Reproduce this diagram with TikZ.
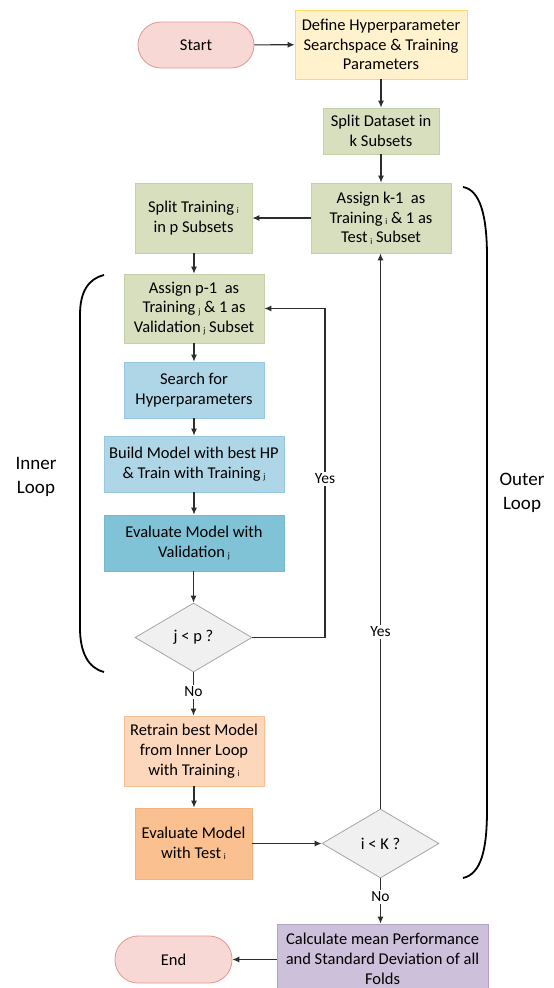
\documentclass[tikz,border=0pt]{standalone}
\usepackage{fontspec}
\setmainfont{Carlito}
\usetikzlibrary{arrows.meta,shapes.geometric}

\definecolor{pinkfill}{RGB}{248,216,213}
\definecolor{pinkdraw}{RGB}{228,150,145}
\definecolor{yelfill}{RGB}{255,242,204}
\definecolor{yeldraw}{RGB}{255,217,102}
\definecolor{grnfill}{RGB}{216,223,191}
\definecolor{grndraw}{RGB}{196,208,166}
\definecolor{bluefill}{RGB}{174,214,230}
\definecolor{bluedraw}{RGB}{150,200,225}
\definecolor{tealfill}{RGB}{128,194,214}
\definecolor{tealdraw}{RGB}{118,184,208}
\definecolor{peachfill}{RGB}{252,215,187}
\definecolor{peachdraw}{RGB}{249,190,145}
\definecolor{orangefill}{RGB}{250,192,143}
\definecolor{orangedraw}{RGB}{244,178,128}
\definecolor{grayfill}{RGB}{240,240,240}
\definecolor{graydraw}{RGB}{166,166,166}
\definecolor{lavfill}{RGB}{204,192,218}
\definecolor{lavdraw}{RGB}{178,162,199}
\definecolor{linecol}{RGB}{45,45,45}

% small lowered index, as in "Training i"
\newcommand\lowidx[1]{\,{\fontsize{8.5}{8.5}\selectfont\raisebox{-0.35ex}{#1}}}

\tikzset{
  box/.style={rectangle, draw, line width=0.8pt, align=center, inner sep=0pt,
    font=\fontsize{16.5}{19.7}\selectfont},
  pill/.style={box, rounded corners=23pt, fill=pinkfill, draw=pinkdraw},
  decision/.style={diamond, draw=graydraw, fill=grayfill, line width=0.8pt,
    inner sep=0pt, align=center, font=\fontsize{16.5}{19.7}\selectfont},
  flow/.style={draw=linecol, line width=1.1pt, -{Latex[length=7pt,width=6pt]}},
  lbl/.style={fill=white, inner sep=1.5pt, font=\fontsize{15.5}{17}\selectfont},
  bracket/.style={draw=black, line width=1.8pt},
  looptext/.style={align=center, font=\fontsize{19}{24}\selectfont}
}

\begin{document}
\begin{tikzpicture}[x=1pt, y=-1pt]
\clip (0,0) rectangle (554,988);
\fill[white] (0,0) rectangle (554,988);

% steps
\node[pill, minimum width=116pt, minimum height=46pt] (start) at (196,45) {Start};
\node[box, fill=yelfill, draw=yeldraw, minimum width=172pt, minimum height=69pt] (define) at (381,44.5)
  {Define Hyperparameter\\Searchspace \& Training\\Parameters};
\node[box, fill=grnfill, draw=grndraw, minimum width=116pt, minimum height=46pt] (splitds) at (381,131)
  {Split Dataset in\\k Subsets};
\node[box, fill=grnfill, draw=grndraw, minimum width=140pt, minimum height=70pt] (assignk) at (381,218)
  {Assign k-1~ as\\Training\lowidx{i} \& 1 as\\Test\lowidx{i} Subset};
\node[box, fill=grnfill, draw=grndraw, minimum width=117pt, minimum height=70pt] (splittr) at (193.5,218)
  {Split Training\lowidx{i}\\in p Subsets};
\node[box, fill=grnfill, draw=grndraw, minimum width=140pt, minimum height=69pt] (assignp) at (194,308.5)
  {Assign p-1~ as\\Training\lowidx{j} \& 1 as\\Validation\lowidx{j} Subset};
\node[box, fill=bluefill, draw=bluedraw, minimum width=140pt, minimum height=56pt] (search) at (194,390)
  {Search for\\Hyperparameters};
\node[box, fill=bluefill, draw=bluedraw, minimum width=180pt, minimum height=56pt] (build) at (194,464)
  {Build Model with best HP\\\& Train with Training\lowidx{j}};
\node[box, fill=tealfill, draw=tealdraw, minimum width=180pt, minimum height=56pt] (evalval) at (194,543)
  {Evaluate Model with\\Validation\lowidx{j}};
\node[decision, minimum width=117pt, minimum height=69pt] (djp) at (193.5,637.5) {j < p ?};
\node[box, fill=peachfill, draw=peachdraw, minimum width=140pt, minimum height=70pt] (retrain) at (194,751)
  {Retrain best Model\\from Inner Loop\\with Training\lowidx{i}};
\node[box, fill=orangefill, draw=orangedraw, minimum width=117pt, minimum height=71pt] (evaltest) at (193.5,843.5)
  {Evaluate Model\\with Test\lowidx{i}};
\node[decision, minimum width=117pt, minimum height=69pt] (dik) at (380.5,843.5) {i < K ?};
\node[box, fill=lavfill, draw=lavdraw, minimum width=211pt, minimum height=70pt] (calc) at (382.5,959)
  {Calculate mean Performance\\and Standard Deviation of all\\Folds};
\node[pill, minimum width=117pt, minimum height=47pt] (end) at (173.5,959.5) {End};

% connectors
\draw[flow] (start) -- (define);
\draw[flow] (define) -- (splitds);
\draw[flow] (splitds) -- (assignk);
\draw[flow] (assignk) -- (splittr);
\draw[flow] (splittr.south -| assignp.north) -- (assignp);
\draw[flow] (assignp) -- (search);
\draw[flow] (search) -- (build);
\draw[flow] (build) -- (evalval);
\draw[flow] (evalval.south -| djp.north) -- (djp);
\coordinate (jyes) at (325,637.5);
\draw[flow] (djp.east) -- (jyes) -- (jyes |- assignp.east) -- (assignp.east);
\node[lbl] (yesin) at (325,479) {Yes};
\draw[flow] (djp.south) -- (djp.south |- retrain.north);
\node[lbl] (noin) at (193.5,692) {No};
\draw[flow] (retrain) -- (retrain.south |- evaltest.north);
\draw[flow] (evaltest) -- (dik);
\draw[flow] (dik.north) -- (dik.north |- assignk.south);
\node[lbl] (yesout) at (380.5,632) {Yes};
\draw[flow] (dik.south) -- (dik.south |- calc.north);
\node[lbl] (noout) at (380.5,897) {No};
\draw[flow] (calc.west |- end.east) -- (end.east);

% loop brackets
\draw[bracket] (104,275) .. controls (88,279) and (80,292) .. (80,315)
  -- (80,628) .. controls (80,652) and (88,668) .. (104,672);
\draw[bracket] (463,187) .. controls (480,190) and (487,215) .. (487,257)
  -- (487,810) .. controls (487,850) and (481,874) .. (463,878);
\node[looptext] (inner) at (36,477) {Inner\\Loop};
\node[looptext] (outer) at (522,493) {Outer\\Loop};
\end{tikzpicture}
\end{document}
